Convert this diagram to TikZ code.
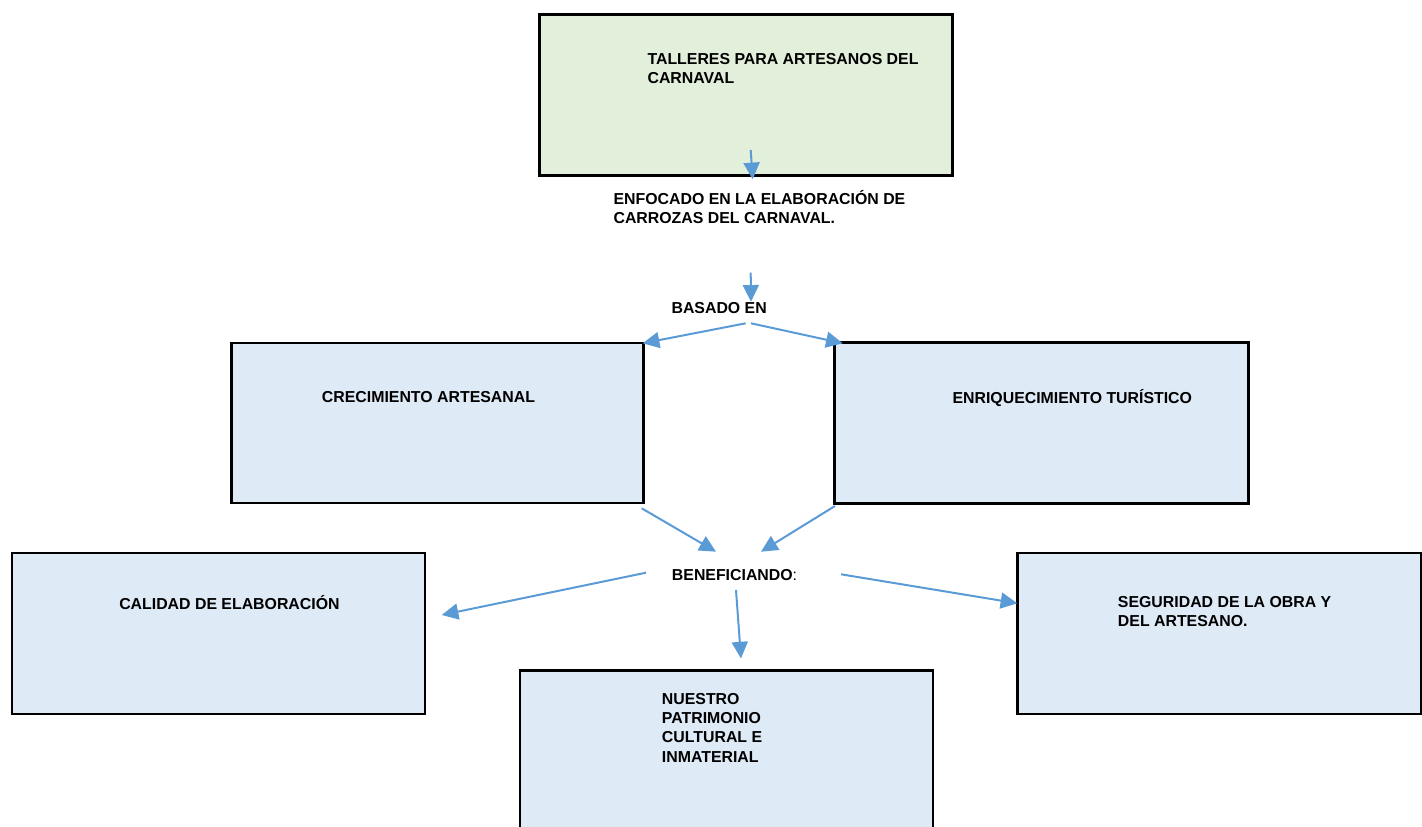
\documentclass[tikz,border=0pt]{standalone}
\usepackage{fontspec}
\setmainfont{Liberation Sans}
\usetikzlibrary{arrows.meta}
\definecolor{boxgreen}{HTML}{E2EFDA}
\definecolor{boxblue}{HTML}{DEEAF6}
\definecolor{arrowblue}{HTML}{5B9BD5}
\begin{document}
\begin{tikzpicture}[x=0.75pt,y=-0.75pt,
  box/.style={draw=black,line width=1.6pt,fill=boxblue,rectangle,inner sep=0pt},
  gbox/.style={box,fill=boxgreen},
  lbl/.style={anchor=base west,inner sep=0pt,align=left,font=\bfseries\fontsize{11.9}{14.5}\selectfont},
  conn/.style={draw=arrowblue,line width=1.5pt,-{Triangle[length=12.5pt,width=12pt]}}]
\useasboundingbox (0,0) rectangle (1422,827);
\clip (0,0) rectangle (1422,827);
% boxes
\node[gbox,minimum width=413*0.75pt,minimum height=161*0.75pt] (top) at (746,95) {};
\node[box,minimum width=412*0.75pt,minimum height=160*0.75pt] (crec) at (437.5,423) {};
\node[box,minimum width=414*0.75pt,minimum height=161*0.75pt] (enri) at (1041.5,423) {};
\node[box,minimum width=413*0.75pt,minimum height=161*0.75pt] (cal) at (218.5,633.5) {};
\node[box,minimum width=404*0.75pt,minimum height=161*0.75pt] (seg) at (1219.5,633.5) {};
\node[box,minimum width=413*0.75pt,minimum height=200*0.75pt] (nue) at (726.5,770.5) {};
% texts (base anchor = baseline of the last line)
\node[lbl] (t1) at (647.3,84) {TALLERES PARA ARTESANOS DEL\\CARNAVAL};
\node[lbl] (t2) at (613.3,224) {ENFOCADO EN LA ELABORACIÓN DE\\CARROZAS DEL CARNAVAL.};
\node[lbl] (t3) at (671.3,313.3) {BASADO EN};
\node[lbl] (t4) at (321.7,402.7) {CRECIMIENTO ARTESANAL};
\node[lbl] (t5) at (952.3,403.3) {ENRIQUECIMIENTO TURÍSTICO};
\node[lbl] (t6) at (671.7,580) {BENEFICIANDO\textmd{:}};
\node[lbl] (t7) at (119,609) {CALIDAD DE ELABORACIÓN};
\node[lbl] (t8) at (1117.7,626.7) {SEGURIDAD DE LA OBRA Y\\DEL ARTESANO.};
\node[lbl] (t9) at (661.7,762.3) {NUESTRO\\PATRIMONIO\\CULTURAL E\\INMATERIAL};
% arrow coordinates
\coordinate (a1s) at (750.7,150);
\coordinate (a1e) at (752.7,179.3);
\coordinate (a2s) at (750.7,272.7);
\coordinate (a2e) at (751,301.7);
\coordinate (a3s) at (745.7,323.3);
\coordinate (a3e) at (642.7,343.3);
\coordinate (a4s) at (751,323.3);
\coordinate (a4e) at (842.7,343.3);
\coordinate (a5s) at (641.7,508.3);
\coordinate (a5e) at (716,551.7);
\coordinate (a6s) at (835,506);
\coordinate (a6e) at (761,551.7);
\coordinate (a7s) at (646,572.7);
\coordinate (a7e) at (441.7,615);
\coordinate (a8s) at (736,590);
\coordinate (a8e) at (741,658.5);
\coordinate (a9s) at (841,574.3);
\coordinate (a9e) at (1017.3,603.3);
\draw[conn] (a1s) -- (a1e);
\draw[conn] (a2s) -- (a2e);
\draw[conn] (a3s) -- (a3e);
\draw[conn] (a4s) -- (a4e);
\draw[conn] (a5s) -- (a5e);
\draw[conn] (a6s) -- (a6e);
\draw[conn] (a7s) -- (a7e);
\draw[conn] (a8s) -- (a8e);
\draw[conn] (a9s) -- (a9e);
\end{tikzpicture}
\end{document}
